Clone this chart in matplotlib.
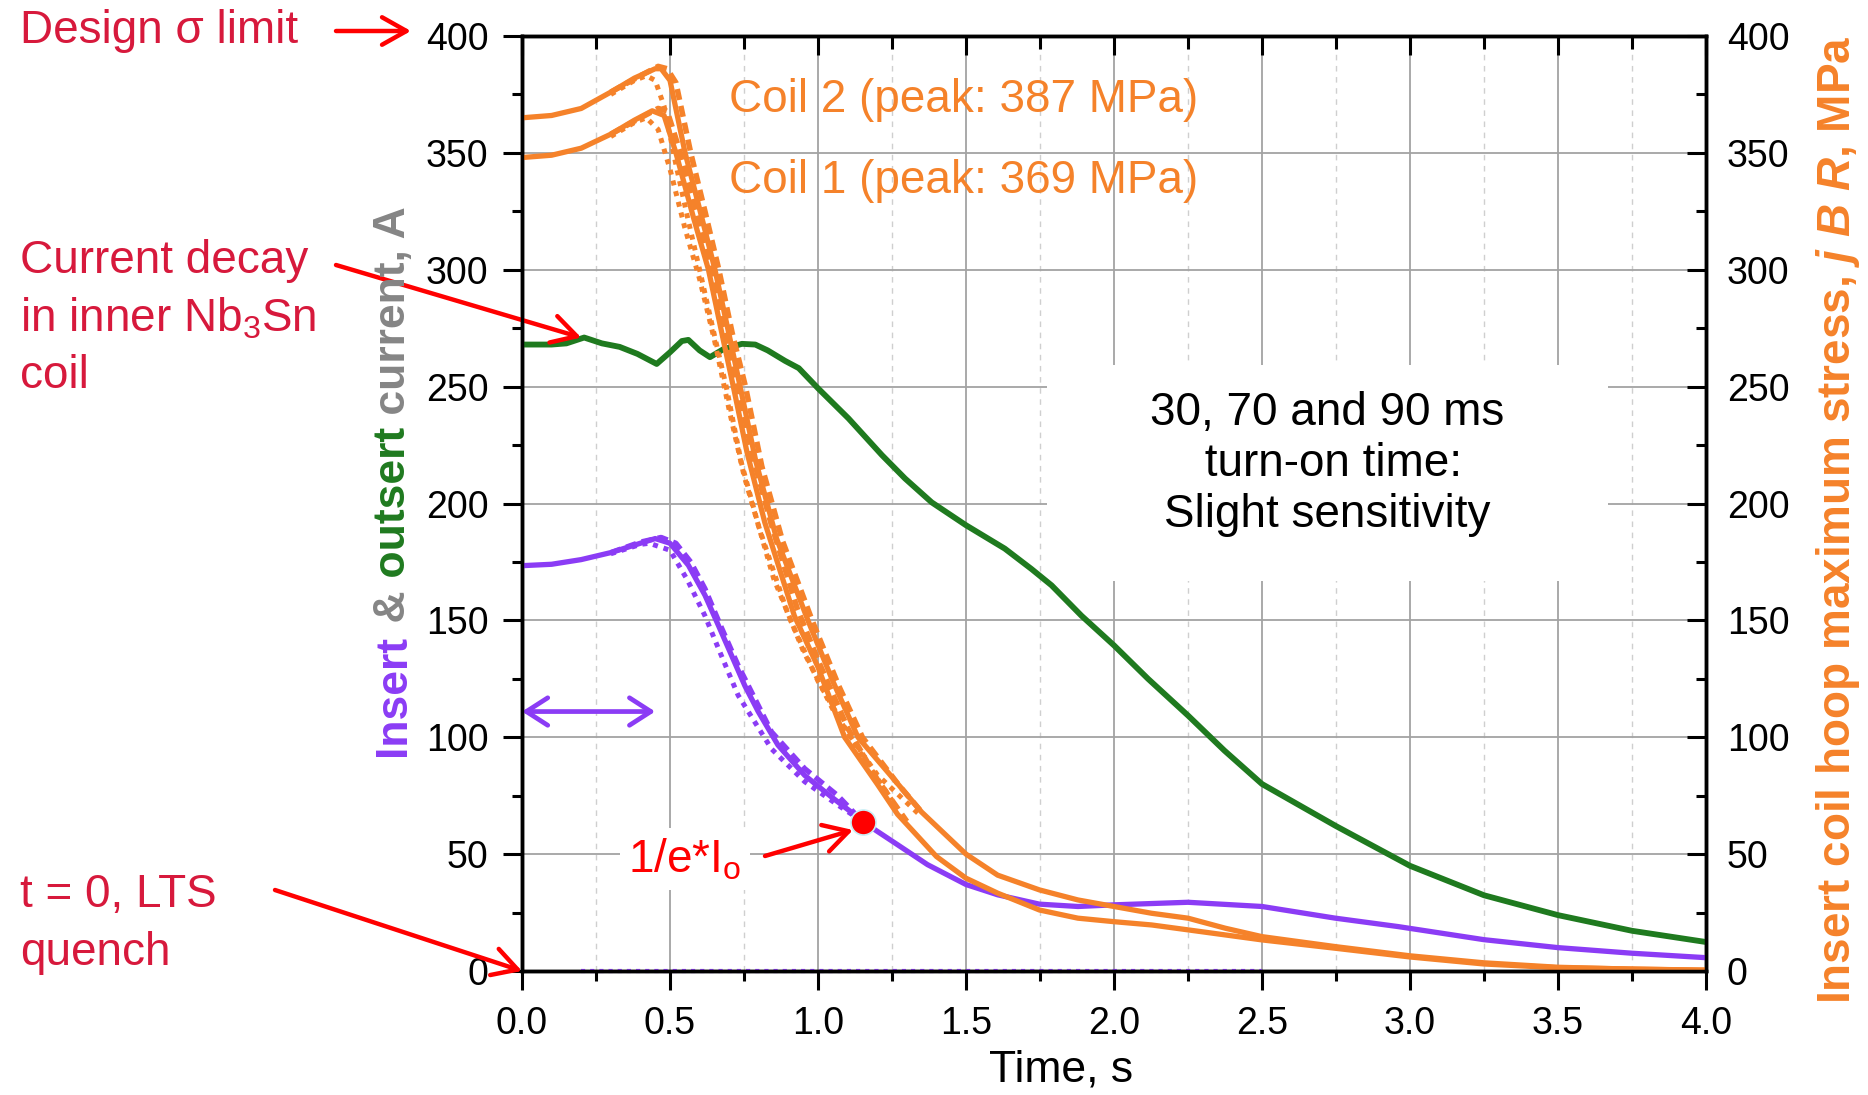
import matplotlib
matplotlib.use('Agg')
import matplotlib.pyplot as plt
from matplotlib.patches import Rectangle
from matplotlib.ticker import MultipleLocator

plt.rcParams['font.family'] = ['Liberation Sans', 'DejaVu Sans']
plt.rcParams['mathtext.fontset'] = 'custom'
plt.rcParams['mathtext.rm'] = 'Liberation Sans'
plt.rcParams['mathtext.it'] = 'Liberation Sans:italic:bold'
plt.rcParams['mathtext.bf'] = 'Liberation Sans:bold'

# dados

# corrente do outsert (verde), A
time_out = [0, 0.1, 0.15, 0.21, 0.27, 0.33, 0.39, 0.455, 0.5, 0.54, 0.562, 0.6, 0.635, 0.68,
            0.743, 0.788, 0.83, 0.889, 0.935, 1.0, 1.103, 1.216, 1.294, 1.384, 1.5, 1.631,
            1.721, 1.789, 1.89, 2.0, 2.115, 2.25, 2.373, 2.5, 2.75, 3.0, 3.25, 3.5, 3.75, 4.0]
cur_out = [268, 268, 268.5, 271, 268.5, 267, 264, 259.7, 264.7, 269.5, 270, 265.5, 262.6, 266,
           268.3, 268, 265.5, 261, 257.9, 249.3, 236.4, 220.7, 210.7, 200.5, 190.7, 180.7,
           172, 165, 152, 139.3, 125, 109.3, 94.3, 80, 62, 45, 32.4, 23.9, 17.2, 12.4]

# corrente do insert (roxo), A
time_ins = [0, 0.1, 0.2, 0.3, 0.4, 0.45, 0.5, 0.562, 0.618, 0.663, 0.708, 0.753, 0.798, 0.865,
            0.955, 1.045, 1.112, 1.152, 1.269, 1.37, 1.5, 1.607, 1.748, 1.878, 2.0, 2.25, 2.5,
            2.748, 2.96, 3.25, 3.5, 3.75, 4.0]
cur_ins = [173.4, 174, 176, 179, 183, 185, 183, 173.6, 160.8, 148, 135, 122, 111, 96.6,
           83.7, 74.5, 68, 63.8, 54, 45.5, 37, 32.6, 28.6, 27.6, 28.3, 29.4, 27.6,
           22.6, 19, 13.4, 10, 7.6, 5.7]
time_ins_dot = [0.3, 0.4, 0.43, 0.5, 0.56, 0.618, 0.67, 0.73, 0.843, 0.955, 1.067, 1.15]
cur_ins_dot = [178.5, 182.5, 183, 180, 167, 152, 136, 118, 95, 81, 71, 64]
time_ins_dash = [0.3, 0.4, 0.47, 0.52, 0.57, 0.618, 0.67, 0.73, 0.843, 0.955, 1.067, 1.15]
cur_ins_dash = [179, 183.5, 185.5, 183, 175, 163.6, 148, 130.8, 102.3, 86.6, 75, 64]
zero_t = [0.2, 2.5]  # linha pontilhada roxa em zero
zero_v = [0, 0]

# tensao nas bobinas (laranja), MPa
time_c1 = [0, 0.1, 0.2, 0.3, 0.38, 0.44, 0.48, 0.52, 0.58, 0.63, 0.68, 0.714, 0.76, 0.82,
           0.92, 1.0, 1.09, 1.2, 1.269, 1.4, 1.5, 1.607, 1.748, 1.878, 2.0, 2.127, 2.25,
           2.5, 2.75, 3.0, 3.25, 3.5, 4.0]
stress_c1 = [348, 349, 352, 358, 364, 368, 366, 350, 322, 300, 270, 250, 222, 192,
             152, 130, 100, 80, 67, 49, 39.7, 33.3, 26.1, 22.6, 21.1, 19.7, 17.6,
             13.3, 9.7, 6, 3, 1.4, 0.3]
time_c1_dot = [0.3, 0.38, 0.42, 0.46, 0.5, 0.55, 0.6, 0.65, 0.7, 0.75, 0.85, 0.95, 1.05, 1.15, 1.25]
stress_c1_dot = [357, 363, 365, 360, 343, 318, 296, 270, 240, 212, 168, 137, 112, 92, 73]
time_c1_dash = [0.3, 0.4, 0.46, 0.49, 0.53, 0.59, 0.64, 0.69, 0.73, 0.78, 0.84, 0.93, 1.0,
                1.1, 1.2, 1.3]
stress_c1_dash = [358, 365, 369, 368, 352, 325, 300, 272, 250, 220, 192, 155, 133, 104, 82, 64]

time_c2 = [0, 0.1, 0.2, 0.3, 0.38, 0.45, 0.47, 0.5, 0.551, 0.6, 0.652, 0.7, 0.737, 0.79, 0.86,
           0.966, 1.05, 1.135, 1.27, 1.35, 1.5, 1.607, 1.748, 1.878, 2.0, 2.127, 2.25, 2.376,
           2.5, 2.75, 3.0, 3.25, 3.5, 3.75, 4.0]
stress_c2 = [365, 366, 369, 376, 382, 386, 386, 381, 350, 326, 300, 272, 250, 218, 185,
             150, 124, 100, 80, 68, 50, 41, 34.7, 30.4, 27.6, 24.7, 22.6, 18.3,
             14.7, 10.4, 6.5, 3.5, 1.6, 0.8, 0.4]
time_c2_dot = [0.3, 0.38, 0.42, 0.45, 0.48, 0.52, 0.56, 0.6, 0.65, 0.69, 0.74, 0.8, 0.9, 1.0,
               1.1, 1.2, 1.35]
stress_c2_dot = [375, 381, 383, 381, 370, 345, 322, 300, 272, 250, 218, 190, 152, 124,
                 102, 84, 66]
time_c2_dash = [0.3, 0.4, 0.46, 0.49, 0.52, 0.57, 0.62, 0.665, 0.71, 0.755, 0.81, 0.88, 0.98,
                1.07, 1.15, 1.27, 1.35]
stress_c2_dash = [376, 383, 387, 386, 380, 350, 324, 300, 273, 250, 216, 184, 150, 122,
                  100, 80, 68]

efold_t, efold_i = 1.152, 63.8  # ponto 1/e*Io
turnon_t = [0, 0.45]  # seta dupla roxa
turnon_v = 111

x_ticks = [0.0, 0.5, 1.0, 1.5, 2.0, 2.5, 3.0, 3.5, 4.0]
y_ticks = [0, 50, 100, 150, 200, 250, 300, 350, 400]

# cores
orange = '#f5822a'
purple = '#8b3cf5'
green = '#1f7a1f'
gray = '#858585'
crimson = '#d7193c'
red = '#ff0000'

W, H = 1868, 1095


def fpx(x, y):  # pixel (a partir do topo) -> fracao da figura
    return x / W, 1 - y / H


fig = plt.figure(figsize=(W / 100, H / 100), dpi=100)
ax = fig.add_axes([522 / W, 1 - 971 / H, (1706 - 522) / W, (971 - 36) / H])
ax2 = ax.twinx()

# curvas eixo esquerdo
ax.plot(time_out, cur_out, color=green, lw=4.2, zorder=3)
ax.plot(time_ins_dot, cur_ins_dot, color=purple, lw=3.6, ls=(0, (1, 1.2)), zorder=3)
ax.plot(time_ins_dash, cur_ins_dash, color=purple, lw=3.8, ls=(0, (2, 1.1)), zorder=3)
ax.plot(time_ins, cur_ins, color=purple, lw=3.8, zorder=3)
ax.plot(zero_t, zero_v, color=purple, lw=3, ls=(0, (1, 1.2)), zorder=3, clip_on=False)

# curvas eixo direito
for tt, ss in [(time_c1_dot, stress_c1_dot), (time_c2_dot, stress_c2_dot)]:
    ax2.plot(tt, ss, color=orange, lw=3.6, ls=(0, (1, 1.2)))
for tt, ss in [(time_c1_dash, stress_c1_dash), (time_c2_dash, stress_c2_dash)]:
    ax2.plot(tt, ss, color=orange, lw=4.0, ls=(0, (2, 1.1)))
ax2.plot(time_c1, stress_c1, color=orange, lw=3.8)
ax2.plot(time_c2, stress_c2, color=orange, lw=3.8)

ax2.plot(efold_t, efold_i, 'o', color=red, ms=18, mec='#c8eef5', mew=1.2, zorder=5)
ax.annotate('', xy=(turnon_t[0], turnon_v), xytext=(turnon_t[1], turnon_v),
            arrowprops=dict(arrowstyle='<->, head_length=0.7, head_width=0.45',
                            color=purple, lw=3.4, mutation_scale=22, shrinkA=0, shrinkB=0),
            zorder=4)

# eixos
for a in (ax, ax2):
    a.set_xlim(0, 4)
    a.set_ylim(0, 400)
    a.set_yticks(y_ticks)
    a.yaxis.set_minor_locator(MultipleLocator(25))
    for sp in a.spines.values():
        sp.set_linewidth(2.5)
ax.set_xticks(x_ticks)
ax.set_xticklabels([f'{v:.1f}' for v in x_ticks])
ax.xaxis.set_minor_locator(MultipleLocator(0.25))

ax.tick_params(axis='both', which='both', direction='out', width=2.2, labelsize=27)
ax.tick_params(axis='both', which='major', length=14)
ax.tick_params(axis='both', which='minor', length=7)
ax.tick_params(axis='y', pad=10)
ax.tick_params(axis='x', pad=11)
ax2.tick_params(axis='y', which='both', direction='in', width=2.2, labelsize=27, pad=15)
ax2.tick_params(axis='y', which='major', length=14)
ax2.tick_params(axis='y', which='minor', length=7)
ax2.xaxis.set_visible(True)  # ticks de cima para dentro
ax2.tick_params(axis='x', which='both', direction='in', bottom=False, top=True,
                labelbottom=False, labeltop=False, width=2.2)
ax2.tick_params(axis='x', which='major', length=14)
ax2.tick_params(axis='x', which='minor', length=9)

ax.set_axisbelow(True)
ax.grid(which='major', color='#a3a3a3', lw=1.3)
ax.xaxis.grid(which='minor', color='#cfcfcf', lw=1.0, ls=(0, (4, 4)))
ax.add_patch(Rectangle((0.4434, 0.417), 0.4736, 0.231, transform=ax.transAxes,
                       fc='white', ec='none', zorder=1))

ax.set_xlabel('Time, s', fontsize=32)
ax.xaxis.set_label_coords(0.4557, -0.084)

# textos dentro do grafico
ax2.text(0.70, 372.6, 'Coil 2 (peak: 387 MPa)', color=orange, fontsize=33, va='center')
ax2.text(0.70, 338, 'Coil 1 (peak: 369 MPa)', color=orange, fontsize=33, va='center')
ax2.text(2.72, 217, '30, 70 and 90 ms\n turn-on time:\nSlight sensitivity', fontsize=33,
         ha='center', va='center', multialignment='center', linespacing=1.2)

# rotulo esquerdo colorido, montado por partes
renderer = fig.canvas.get_renderer()
ypos = H - 756
for piece, col in [('Insert', purple), (' &', gray), (' outsert', green), (' current, A', gray)]:
    t = fig.text(405 / W, ypos / H, piece, rotation=90, rotation_mode='anchor', ha='left',
                 va='baseline', fontsize=32, fontweight='bold', color=col)
    ypos = t.get_window_extent(renderer).y1

fig.text(1850 / W, 1 - 1004 / H, r'Insert coil hoop maximum stress, $j$ $B$ $R$, MPa',
         rotation=90, rotation_mode='anchor', ha='left', va='baseline', fontsize=33,
         fontweight='bold', color=orange)

# anotacoes em vermelho
fig.text(*fpx(20, 43), 'Design \u03c3 limit', color=crimson, fontsize=33, va='baseline')
fig.text(*fpx(20, 273), 'Current decay', color=crimson, fontsize=33, va='baseline')
fig.text(*fpx(20, 332), 'in inner Nb$_3$Sn', color=crimson, fontsize=33, va='baseline')
fig.text(*fpx(20, 388), 'coil', color=crimson, fontsize=33, va='baseline')
fig.text(*fpx(20, 907), 't = 0, LTS', color=crimson, fontsize=33, va='baseline')
fig.text(*fpx(20, 965), 'quench', color=crimson, fontsize=33, va='baseline')
fig.text(*fpx(628, 872), r'1/e*I$_\mathrm{o}$', color=red, fontsize=33, va='baseline',
         bbox=dict(fc='white', ec='none', pad=6))

arrow = dict(arrowstyle='->, head_length=0.8, head_width=0.45', color=red, lw=3.2,
             mutation_scale=22, shrinkA=0, shrinkB=0)
ax.annotate('', xy=(411, H - 31), xycoords='figure pixels',
            xytext=(336, H - 31), textcoords='figure pixels', arrowprops=arrow)
ax.annotate('', xy=(0.2, 271), xycoords='data', xytext=(336, H - 265),
            textcoords='figure pixels', arrowprops=arrow, annotation_clip=False)
ax.annotate('', xy=(0, 0), xycoords='data', xytext=(275, H - 890),
            textcoords='figure pixels', arrowprops=arrow, annotation_clip=False)
ax.annotate('', xy=(853, H - 830), xycoords='figure pixels', xytext=(765, H - 856),
            textcoords='figure pixels', arrowprops=arrow)

fig.savefig('out.png', dpi=100)
